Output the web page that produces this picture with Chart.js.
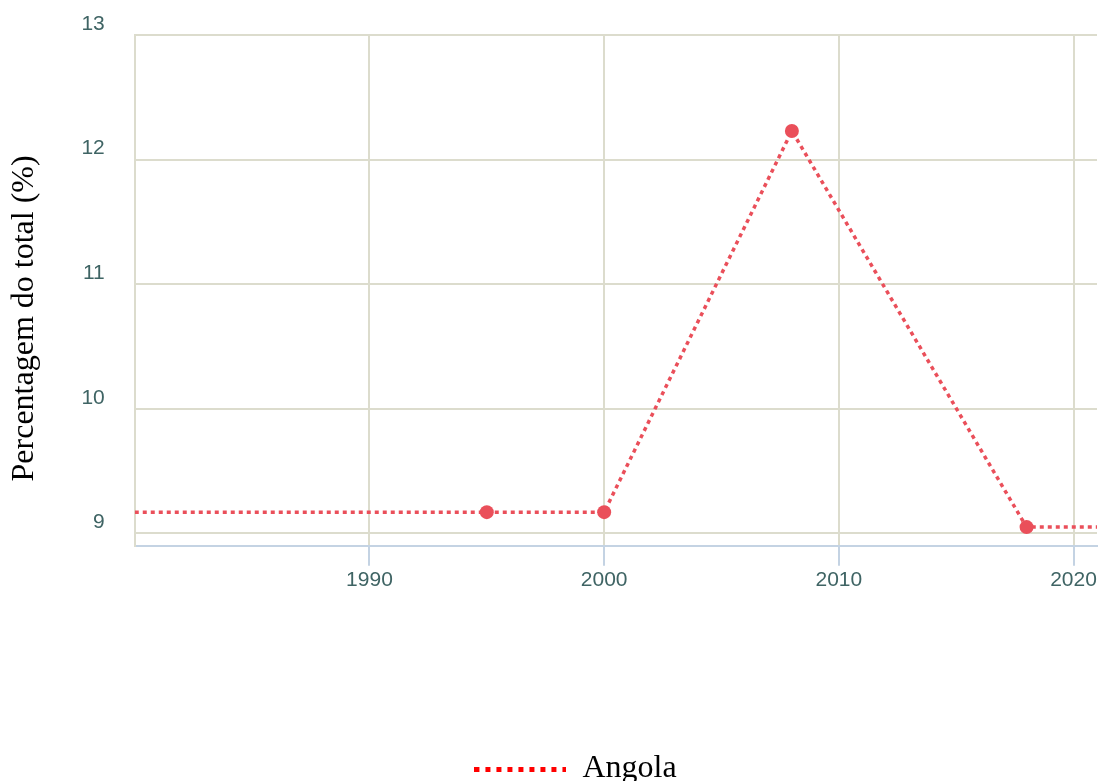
<!DOCTYPE html>
<html>
<head>
<meta charset="utf-8">
<script src="https://cdn.jsdelivr.net/npm/chart.js"></script>
<style>
  body { margin: 0; background: #fff; }
  #wrap { width: 1101px; height: 781px; }
</style>
</head>
<body>
<div id="wrap"><canvas id="myChart"></canvas></div>
<script>
// data
const years = [1980, 1995, 2000, 2008, 2018, 2021];
const angola = [9.17, 9.17, 9.17, 12.23, 9.05, 9.05];
const xTicks = [1990, 2000, 2010, 2020];
const yTicks = [9, 10, 11, 12, 13];
const seriesName = 'Angola';
const yTitle = 'Percentagem do total (%)';

// dotted swatch for the legend
function legendSwatch() {
    const c = document.createElement('canvas');
    c.width = 92;
    c.height = 5;
    const g = c.getContext('2d');
    g.fillStyle = '#ff0000';
    for (let x = 0; x < 92; x += 11) {
        g.fillRect(x, 0, 5, 5);
    }
    return c;
}
const swatch = legendSwatch();

const tickColor = '#3f6464';
const gridColor = '#dcdccd';

// legend sits a bit right of centre and at the very bottom
const legendNudge = {
    id: 'legendNudge',
    afterLayout(chart) {
        const l = chart.legend;
        l.left += 27; l.right += 27;
        l.top += 14; l.bottom += 14;
    }
};

const ctx = document.getElementById('myChart');

new Chart(ctx, {
    type: 'line',
    data: {
        datasets: [{
            label: seriesName,
            data: years.map((y, i) => ({ x: y, y: angola[i] })),
            borderColor: '#ea4f5a',
            backgroundColor: '#ea4f5a',
            borderWidth: 3.5,
            borderDash: [4, 4],
            pointRadius: c => (c.dataIndex === 0 || c.dataIndex === years.length - 1) ? 0 : 7,
            pointBorderWidth: 0,
            pointStyle: 'circle',
            tension: 0
        }]
    },
    plugins: [legendNudge],
    options: {
        responsive: true,
        maintainAspectRatio: false,
        animation: false,
        layout: { padding: { top: 0, right: 4, bottom: 0, left: 0 } },
        plugins: {
            tooltip: { enabled: false },
            legend: {
                position: 'bottom',
                labels: {
                    usePointStyle: true,
                    pointStyleWidth: 92,
                    padding: 0,
                    color: '#000',
                    font: { family: 'Liberation Serif', size: 32 },
                    generateLabels: chart => [{
                        text: seriesName,
                        pointStyle: swatch,
                        fillStyle: '#ff0000',
                        strokeStyle: '#ff0000',
                        lineWidth: 0,
                        datasetIndex: 0,
                        hidden: false
                    }]
                }
            }
        },
        scales: {
            x: {
                type: 'linear',
                min: 1980,
                max: 2021,
                afterBuildTicks: s => { s.ticks = xTicks.map(v => ({ value: v })); },
                afterFit: s => { s.height += 144; },
                grid: { color: gridColor, lineWidth: 2, tickColor: '#c4d3e3', tickLength: 20 },
                border: { color: '#c4d3e3', width: 2 },
                ticks: {
                    color: tickColor,
                    font: { family: 'Liberation Sans', size: 21 },
                    padding: 2,
                    maxRotation: 0,
                    callback: v => String(v)
                }
            },
            y: {
                min: 8.9,
                max: 13,
                afterBuildTicks: s => { s.ticks = yTicks.map(v => ({ value: v })); },
                afterFit: s => { s.paddingTop = 35; },
                grid: { color: gridColor, lineWidth: 2, drawTicks: false },
                border: { color: gridColor, width: 2 },
                ticks: {
                    color: tickColor,
                    font: { family: 'Liberation Sans', size: 21 },
                    padding: 30,
                    labelOffset: -11,
                    callback: v => String(v)
                },
                title: {
                    display: true,
                    // trailing spaces push the rotated title a little lower, as in the original
                    text: yTitle + '       ',
                    color: '#000',
                    font: { family: 'Liberation Serif', size: 32 },
                    padding: { top: 5, bottom: 8 }
                }
            }
        }
    }
});
</script>
</body>
</html>
